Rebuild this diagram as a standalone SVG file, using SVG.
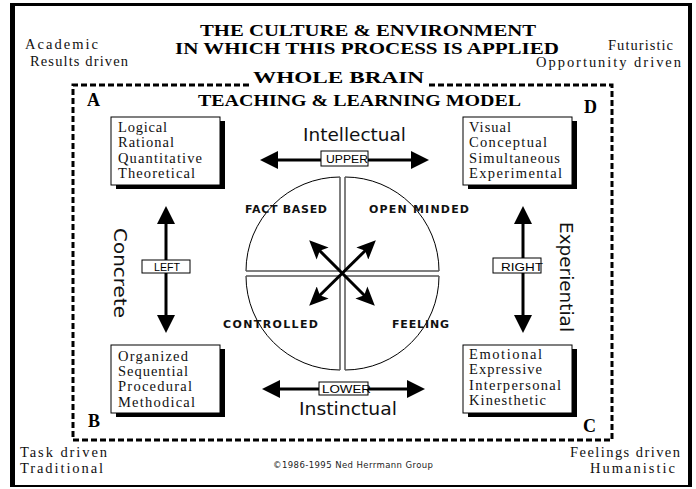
<svg xmlns="http://www.w3.org/2000/svg" width="696" height="489" viewBox="0 0 696 489">
  <style>
    .title { font-family: "Liberation Serif", serif; font-weight: bold; font-size: 16.5px; fill: #000; }
    .corner { font-family: "Liberation Serif", serif; font-size: 14.5px; fill: #111; }
    .quad { font-family: "Liberation Serif", serif; font-weight: bold; font-size: 18px; fill: #000; }
    .trait { font-family: "Liberation Serif", serif; font-size: 14.5px; fill: #111; }
    .axis { font-family: "DejaVu Sans", sans-serif; font-size: 17px; fill: #111; }
    .tag { font-family: "Liberation Sans", sans-serif; font-size: 11.5px; fill: #000; }
    .mode { font-family: "DejaVu Sans", sans-serif; font-weight: bold; font-size: 11px; fill: #111; }
    .copy { font-family: "DejaVu Sans", sans-serif; font-size: 8.5px; fill: #222; }
    .box { fill: #fff; stroke: #000; stroke-width: 1; }
    .shadow { fill: #000; }
    .tagbox { fill: #fff; stroke: #000; stroke-width: 1; }
    .arc { fill: none; stroke: #000; stroke-width: 1; }
    .edge { fill: none; stroke: #555; stroke-width: 1.5; }
    .bigarrow { stroke: #000; stroke-width: 3; fill: none; marker-start: url(#bighead); marker-end: url(#bighead); }
    .smallarrow { stroke: #000; stroke-width: 3; fill: none; marker-start: url(#smallhead); marker-end: url(#smallhead); }
  </style>
  <defs>
    <marker id="bighead" viewBox="0 0 18 18" refX="14" refY="9" markerWidth="18" markerHeight="18" markerUnits="userSpaceOnUse" orient="auto-start-reverse">
      <path d="M0,0 L18,9 L0,18 Z" fill="#000"/>
    </marker>
    <marker id="smallhead" viewBox="0 0 19 17" refX="15" refY="8.5" markerWidth="19" markerHeight="17" markerUnits="userSpaceOnUse" orient="auto-start-reverse">
      <path d="M0,0 L19,8.5 L0,17 L4,8.5 Z" fill="#000"/>
    </marker>
  </defs>

  <rect width="696" height="489" fill="#fff"/>

  <!-- outer frame -->
  <g id="frame">
    <path d="M10,3 H692 V487 H10 Z M15,6 V485 H688 V6 Z" fill="#000" fill-rule="evenodd"/>
  </g>

  <!-- headings -->
  <g id="heading">
    <text class="title" x="200" y="36" textLength="336" lengthAdjust="spacingAndGlyphs">THE CULTURE &amp; ENVIRONMENT</text>
    <text class="title" x="175" y="54" textLength="384" lengthAdjust="spacingAndGlyphs">IN WHICH THIS PROCESS IS APPLIED</text>
    <text class="title" x="253" y="83" textLength="171" lengthAdjust="spacingAndGlyphs">WHOLE BRAIN</text>
    <text class="title" x="198" y="106" textLength="323" lengthAdjust="spacingAndGlyphs">TEACHING &amp; LEARNING MODEL</text>
  </g>

  <!-- culture descriptors in the corners -->
  <g id="corners">
    <text class="corner" x="25" y="49" textLength="73" lengthAdjust="spacing">Academic</text>
    <text class="corner" x="30" y="66" textLength="98" lengthAdjust="spacing">Results driven</text>
    <text class="corner" x="608" y="50" textLength="65" lengthAdjust="spacing">Futuristic</text>
    <text class="corner" x="536" y="67" textLength="145" lengthAdjust="spacing">Opportunity driven</text>
    <text class="corner" x="20" y="457" textLength="87" lengthAdjust="spacing">Task driven</text>
    <text class="corner" x="20" y="473" textLength="83" lengthAdjust="spacing">Traditional</text>
    <text class="corner" x="570" y="457" textLength="110" lengthAdjust="spacing">Feelings driven</text>
    <text class="corner" x="590" y="473" textLength="85" lengthAdjust="spacing">Humanistic</text>
  </g>

  <!-- model boundary -->
  <g id="boundary">
    <path d="M249,85 H73 V440 H612 V85 H428" fill="none" stroke="#000" stroke-width="3" stroke-dasharray="6 3"/>
    <text class="quad" x="87" y="106">A</text>
    <text class="quad" x="584" y="113">D</text>
    <text class="quad" x="88" y="427">B</text>
    <text class="quad" x="583" y="432">C</text>
  </g>

  <!-- quadrant descriptor boxes -->
  <g id="box-a">
    <rect class="shadow" x="116" y="121" width="109" height="68"/>
    <rect class="box" x="111" y="117" width="109" height="68"/>
    <text class="trait" x="118" y="132" textLength="49" lengthAdjust="spacing">Logical</text>
    <text class="trait" x="118" y="147" textLength="56" lengthAdjust="spacing">Rational</text>
    <text class="trait" x="118" y="163" textLength="84" lengthAdjust="spacing">Quantitative</text>
    <text class="trait" x="118" y="178" textLength="77" lengthAdjust="spacing">Theoretical</text>
  </g>
  <g id="box-d">
    <rect class="shadow" x="468" y="121" width="109" height="68"/>
    <rect class="box" x="463" y="117" width="109" height="68"/>
    <text class="trait" x="469" y="132" textLength="42" lengthAdjust="spacing">Visual</text>
    <text class="trait" x="469" y="147" textLength="78" lengthAdjust="spacing">Conceptual</text>
    <text class="trait" x="469" y="163" textLength="91" lengthAdjust="spacing">Simultaneous</text>
    <text class="trait" x="469" y="178" textLength="93" lengthAdjust="spacing">Experimental</text>
  </g>
  <g id="box-b">
    <rect class="shadow" x="116" y="349" width="109" height="68"/>
    <rect class="box" x="111" y="345" width="109" height="68"/>
    <text class="trait" x="118" y="361" textLength="70" lengthAdjust="spacing">Organized</text>
    <text class="trait" x="118" y="376" textLength="70" lengthAdjust="spacing">Sequential</text>
    <text class="trait" x="118" y="391" textLength="74" lengthAdjust="spacing">Procedural</text>
    <text class="trait" x="118" y="407" textLength="77" lengthAdjust="spacing">Methodical</text>
  </g>
  <g id="box-c">
    <rect class="shadow" x="468" y="349" width="109" height="68"/>
    <rect class="box" x="463" y="345" width="109" height="68"/>
    <text class="trait" x="469" y="359" textLength="73" lengthAdjust="spacing">Emotional</text>
    <text class="trait" x="469" y="374" textLength="73" lengthAdjust="spacing">Expressive</text>
    <text class="trait" x="469" y="390" textLength="92" lengthAdjust="spacing">Interpersonal</text>
    <text class="trait" x="469" y="405" textLength="77" lengthAdjust="spacing">Kinesthetic</text>
  </g>

  <!-- brain circle split into four quarters -->
  <g id="brain">
    <path class="arc" d="M246,271 A94,94 0 0 1 340,177"/>
    <path class="edge" d="M340,177 V271 H246"/>
    <path class="arc" d="M345,177 A94,94 0 0 1 439,271"/>
    <path class="edge" d="M439,271 H345 V177"/>
    <path class="arc" d="M439,276 A94,94 0 0 1 345,370"/>
    <path class="edge" d="M345,370 V276 H439"/>
    <path class="arc" d="M340,370 A94,94 0 0 1 246,276"/>
    <path class="edge" d="M246,276 H340 V370"/>
    <text class="mode" x="245" y="213" textLength="82" lengthAdjust="spacing">FACT BASED</text>
    <text class="mode" x="369" y="213" textLength="100" lengthAdjust="spacing">OPEN MINDED</text>
    <text class="mode" x="223" y="328" textLength="95" lengthAdjust="spacing">CONTROLLED</text>
    <text class="mode" x="392" y="328" textLength="57" lengthAdjust="spacing">FEELING</text>
  </g>

  <!-- connectors -->
  <g id="connectors">
    <line class="smallarrow" x1="312" y1="243" x2="372" y2="303"/>
    <line class="smallarrow" x1="373" y1="243" x2="312" y2="303"/>
    <line class="bigarrow" x1="264" y1="160" x2="425" y2="160"/>
    <line class="bigarrow" x1="266" y1="389" x2="421" y2="389"/>
    <line class="bigarrow" x1="166" y1="210" x2="166" y2="329"/>
    <line class="bigarrow" x1="523" y1="210" x2="523" y2="329"/>
  </g>

  <!-- axis labels -->
  <g id="axis-upper">
    <text class="axis" x="303" y="141" textLength="103" lengthAdjust="spacingAndGlyphs">Intellectual</text>
    <rect class="tagbox" x="321" y="151" width="47" height="15"/>
    <text class="tag" x="326" y="163" textLength="42" lengthAdjust="spacingAndGlyphs">UPPER</text>
  </g>
  <g id="axis-lower">
    <rect class="tagbox" x="319" y="382" width="49" height="13"/>
    <text class="tag" x="322" y="393" textLength="49" lengthAdjust="spacingAndGlyphs">LOWER</text>
    <text class="axis" x="299" y="415" textLength="98" lengthAdjust="spacingAndGlyphs">Instinctual</text>
  </g>
  <g id="axis-left">
    <rect class="tagbox" x="142" y="260" width="48" height="13"/>
    <text class="tag" x="154" y="271" textLength="26" lengthAdjust="spacingAndGlyphs">LEFT</text>
    <text class="axis" transform="translate(114,228) rotate(90)" textLength="90" lengthAdjust="spacingAndGlyphs">Concrete</text>
  </g>
  <g id="axis-right">
    <rect class="tagbox" x="493" y="258" width="48" height="15"/>
    <text class="tag" x="501" y="271" textLength="42" lengthAdjust="spacingAndGlyphs">RIGHT</text>
    <text class="axis" transform="translate(560,222) rotate(90)" textLength="110" lengthAdjust="spacingAndGlyphs">Experiential</text>
  </g>

  <g id="credit">
    <text class="copy" x="273" y="468" textLength="160" lengthAdjust="spacing">©1986-1995 Ned Herrmann Group</text>
  </g>
</svg>
